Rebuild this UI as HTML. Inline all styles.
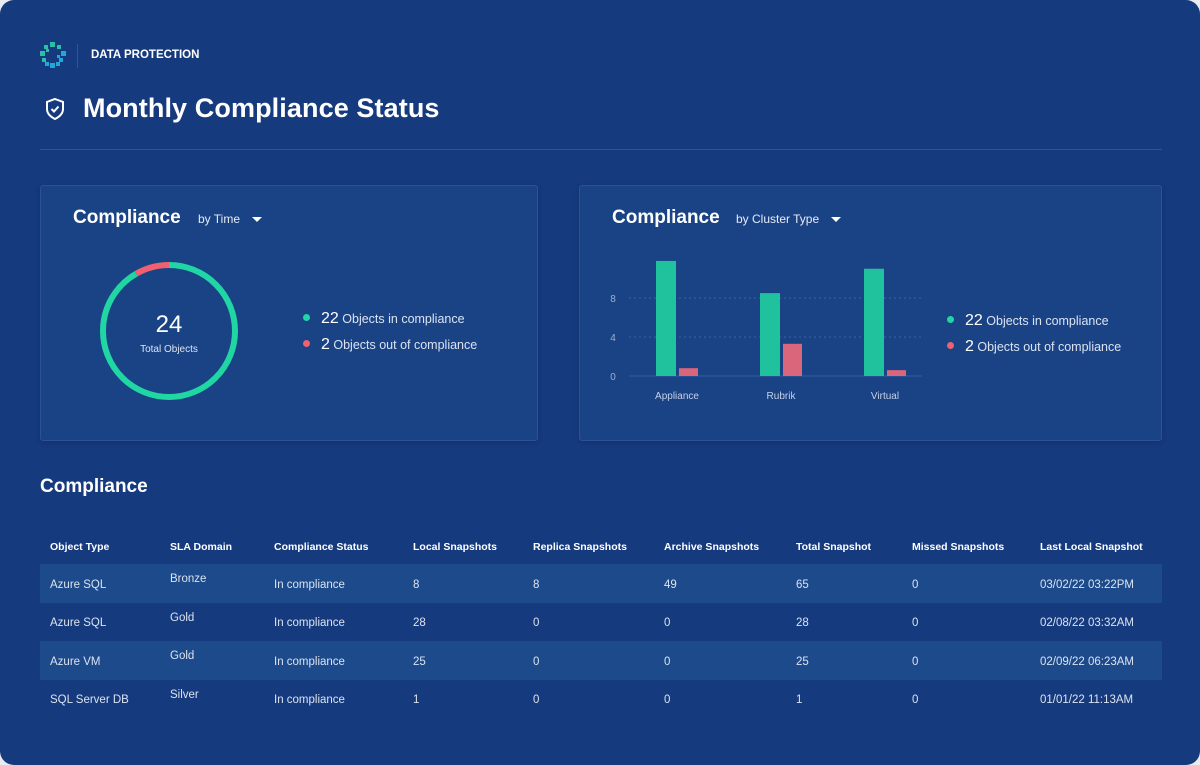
<!DOCTYPE html>
<html><head><meta charset="utf-8"><style>
*{margin:0;padding:0;box-sizing:border-box}
body{width:1200px;height:765px;background:#e8ebf0;font-family:"Liberation Sans",sans-serif;color:#fff;overflow:hidden}
#app{position:absolute;left:0;top:0;width:1200px;height:765px;background:#163a7e;border-radius:14px;overflow:hidden}
.abs{position:absolute}
.panel{position:absolute;background:#1a4386;border:1px solid #2a5296;border-radius:3px;box-shadow:0 2px 6px rgba(0,0,0,.15)}
.ptitle{position:absolute;font-size:19px;font-weight:bold}
.sel{position:absolute;font-size:12px;color:#e6ecf6}
.tri{display:inline-block;width:0;height:0;border-left:5px solid transparent;border-right:5px solid transparent;border-top:5px solid #fff;margin-left:12px;vertical-align:middle}
.leg{position:absolute;font-size:12.5px;color:#dbe3f1;white-space:nowrap}
.leg b{font-size:16px;color:#fff;font-weight:normal}
.dot{display:inline-block;width:7px;height:7px;border-radius:50%;margin-right:11px;vertical-align:middle;position:relative;top:-2px}
table{position:absolute;left:40px;top:527px;width:1122px;border-collapse:collapse;font-size:11.5px}
th{text-align:left;font-weight:bold;height:37px;padding-left:10px;font-size:10.5px;padding-top:2px}
td{height:38.5px;padding-left:10px;color:#dbe3f1;padding-top:3px}
tr.alt td{background:#1c4a8a}
td.sla{vertical-align:top;padding-top:9px}
</style></head><body>
<div id="app">
<svg class="abs" style="left:40px;top:42px" width="26" height="26">
<g fill="#2bbfa5"><rect x="10" y="0" width="5" height="5"/><rect x="4" y="3" width="4" height="4"/><rect x="17" y="3" width="4" height="4"/><rect x="0" y="9" width="5" height="5"/><rect x="2" y="16" width="4" height="4"/><rect x="6" y="7" width="3" height="3"/></g>
<g fill="#1fa8d8"><rect x="21" y="9" width="5" height="5"/><rect x="19" y="16" width="4" height="4"/><rect x="10" y="21" width="5" height="5"/><rect x="5" y="20" width="4" height="4"/><rect x="16" y="20" width="4" height="4"/><rect x="17" y="13" width="3" height="3"/></g></svg>
<div class="abs" style="left:77px;top:44px;width:1px;height:24px;background:#2f5597"></div>
<div class="abs" style="left:91px;top:49px;font-size:11.5px;font-weight:bold">DATA PROTECTION</div>
<svg class="abs" style="left:44px;top:97px" width="22" height="24"><path d="M11 2 L19 5 V12 C19 17 15 20 11 22 C7 20 3 17 3 12 V5 Z" fill="none" stroke="#fff" stroke-width="2"/><path d="M7.5 12 L10 14.5 L14.5 9.5" fill="none" stroke="#fff" stroke-width="2"/></svg>
<div class="abs" style="left:83px;top:93px;font-size:27px;font-weight:bold;letter-spacing:0.1px">Monthly Compliance Status</div>
<div class="abs" style="left:40px;top:149px;width:1122px;height:1px;background:#2f5597"></div>

<div class="panel" style="left:40px;top:185px;width:498px;height:256px">
<div class="ptitle" style="left:32px;top:21px">Compliance</div>
<div class="sel" style="left:157px;top:26px">by Time<span class="tri"></span></div>
<svg class="abs" style="left:56px;top:73px" width="144" height="144" id="donut"></svg>
<div class="abs" style="left:56px;top:125px;width:144px;text-align:center;font-size:24px">24</div>
<div class="abs" style="left:56px;top:158px;width:144px;text-align:center;font-size:10px;color:#dbe3f1">Total Objects</div>
<div class="leg" style="left:262px;top:124px"><span class="dot" style="background:#20d6a3"></span><b>22</b> Objects in compliance</div>
<div class="leg" style="left:262px;top:150px"><span class="dot" style="background:#f0606e"></span><b>2</b> Objects out of compliance</div>
</div>

<div class="panel" style="left:579px;top:185px;width:583px;height:256px">
<div class="ptitle" style="left:32px;top:21px">Compliance</div>
<div class="sel" style="left:156px;top:26px">by Cluster Type<span class="tri"></span></div>
<svg class="abs" style="left:0;top:0" width="583" height="256" id="bars"></svg>
<div class="leg" style="left:367px;top:126px"><span class="dot" style="background:#20d6a3"></span><b>22</b> Objects in compliance</div>
<div class="leg" style="left:367px;top:152px"><span class="dot" style="background:#f0606e"></span><b>2</b> Objects out of compliance</div>
</div>

<div class="abs" style="left:40px;top:476px;font-size:19px;font-weight:bold">Compliance</div>
<table>
<tr><th style="width:120px">Object Type</th><th style="width:104px">SLA Domain</th><th style="width:139px">Compliance Status</th><th style="width:120px">Local Snapshots</th><th style="width:131px">Replica Snapshots</th><th style="width:132px">Archive Snapshots</th><th style="width:116px">Total Snapshot</th><th style="width:128px">Missed Snapshots</th><th>Last Local Snapshot</th></tr>
<tr class="alt"><td>Azure SQL</td><td class="sla">Bronze</td><td>In compliance</td><td>8</td><td>8</td><td>49</td><td>65</td><td>0</td><td>03/02/22 03:22PM</td></tr>
<tr><td>Azure SQL</td><td class="sla">Gold</td><td>In compliance</td><td>28</td><td>0</td><td>0</td><td>28</td><td>0</td><td>02/08/22 03:32AM</td></tr>
<tr class="alt"><td>Azure VM</td><td class="sla">Gold</td><td>In compliance</td><td>25</td><td>0</td><td>0</td><td>25</td><td>0</td><td>02/09/22 06:23AM</td></tr>
<tr><td>SQL Server DB</td><td class="sla">Silver</td><td>In compliance</td><td>1</td><td>0</td><td>0</td><td>1</td><td>0</td><td>01/01/22 11:13AM</td></tr>
</table>
</div>
<script>
const donutLabels=["In compliance","Out of compliance"];
const donutValues=[22,2];
const categories=["Appliance","Rubrik","Virtual"];
const inCompliance=[11.8,8.5,11];
const outCompliance=[0.8,3.3,0.6];
const yTicks=[0,4,8];
const NS="http://www.w3.org/2000/svg";
function mk(t,a,p){const e=document.createElementNS(NS,t);for(const k in a)e.setAttribute(k,a[k]);p.appendChild(e);return e;}
(function(){
const svg=document.getElementById('donut');const cx=72,cy=72,r=66;
const total=donutValues.reduce((a,b)=>a+b,0);const C=2*Math.PI*r;
const colors=["#20d6a3","#f0606e"];
let start=0;
donutValues.forEach((v,i)=>{const len=v/total*C;
const c=mk('circle',{cx:cx,cy:cy,r:r,fill:'none',stroke:colors[i],'stroke-width':6,'stroke-dasharray':len+' '+(C-len),'stroke-dashoffset':-start,transform:'rotate(-90 72 72)'},svg);


start+=len;});
})();
(function(){
const svg=document.getElementById('bars');
const x0=49,x1=342,y0=190,k=9.75,step=104,first=98,bw=20;
const y=v=>y0-v*k;
const ax=mk('line',{x1:x0,x2:x1,y1:y0,y2:y0,stroke:'#335c9e','stroke-width':1},svg);


yTicks.forEach(t=>{
if(t>0){const g=mk('line',{x1:x0,x2:x1,y1:y(t),y2:y(t),stroke:'#3a63a6','stroke-width':1,'stroke-dasharray':'2 3'},svg);

}
const tx=mk('text',{x:33,y:y(t)+4,fill:'#9fb0cf','font-size':10,'text-anchor':'middle'},svg);tx.textContent=t;


});
categories.forEach((c,i)=>{const cx=first+i*step;
const g=mk('rect',{x:cx-22,y:y(inCompliance[i]),width:bw,height:inCompliance[i]*k,fill:'#20c29e'},svg);


const r=mk('rect',{x:cx+1,y:y(outCompliance[i]),width:bw-1,height:outCompliance[i]*k,fill:'#d9667a'},svg);


const t=mk('text',{x:cx-1,y:213,fill:'#c4d0e6','font-size':10,'text-anchor':'middle'},svg);t.textContent=c;


});
})();
</script>
</body></html>
